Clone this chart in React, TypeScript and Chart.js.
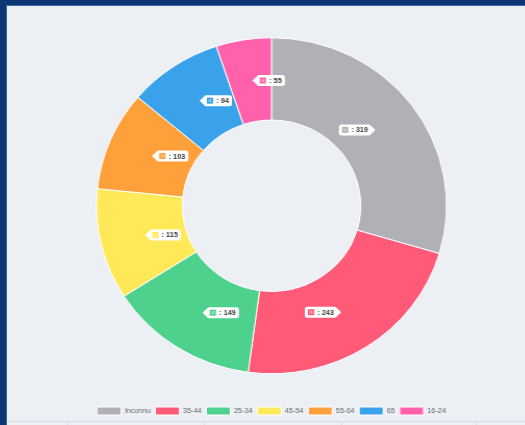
import React, { useEffect, useRef } from "react";
import { Chart, registerables } from "chart.js";

Chart.register(...registerables);

const categories = ["Inconnu", "35-44", "25-34", "45-54", "55-64", "65", "16-24"];
const values = [319, 243, 149, 115, 103, 94, 55];
const colors = ["#b0b0b6", "#ff5b79", "#4ed18c", "#ffe958", "#ffa13b", "#39a2ea", "#ff62aa"];

const FONT = "Arial, 'Liberation Sans', Helvetica, sans-serif";
const SCALE_X = 1.042;
const CANVAS_W = 500;
const CANVAS_H = 416;

const valueTags = {
  id: "valueTags",
  afterDatasetsDraw(chart: any) {
    const ctx = chart.ctx as CanvasRenderingContext2D;
    const meta = chart.getDatasetMeta(0);
    const area = chart.chartArea;
    const midX = (area.left + area.right) / 2;
    ctx.save();
    ctx.font = `bold 7px ${FONT}`;
    ctx.textBaseline = "middle";
    meta.data.forEach((el: any, i: number) => {
      const p = el.tooltipPosition(false);
      const text = ": " + values[i];
      const tw = ctx.measureText(text).width;
      const padX = 3, sq = 6, gap = 3, h = 11, caret = 4, caretPad = 2, r = 2.5;
      const w = padX + sq + gap + tw + padX;
      const leftAlign = p.x <= midX;
      const bx = leftAlign ? p.x + caretPad + caret : p.x - caretPad - caret - w;
      const by = p.y - h / 2;
      ctx.fillStyle = "#ffffff";
      ctx.beginPath();
      ctx.moveTo(bx + r, by);
      ctx.lineTo(bx + w - r, by);
      ctx.quadraticCurveTo(bx + w, by, bx + w, by + r);
      if (!leftAlign) {
        ctx.lineTo(bx + w, p.y - caret);
        ctx.lineTo(p.x - caretPad, p.y);
        ctx.lineTo(bx + w, p.y + caret);
      }
      ctx.lineTo(bx + w, by + h - r);
      ctx.quadraticCurveTo(bx + w, by + h, bx + w - r, by + h);
      ctx.lineTo(bx + r, by + h);
      ctx.quadraticCurveTo(bx, by + h, bx, by + h - r);
      if (leftAlign) {
        ctx.lineTo(bx, p.y + caret);
        ctx.lineTo(p.x + caretPad, p.y);
        ctx.lineTo(bx, p.y - caret);
      }
      ctx.lineTo(bx, by + r);
      ctx.quadraticCurveTo(bx, by, bx + r, by);
      ctx.closePath();
      ctx.fill();
      const sy = p.y - sq / 2;
      ctx.fillStyle = colors[i];
      ctx.fillRect(bx + padX, sy, sq, sq);
      ctx.fillStyle = "rgba(255,255,255,0.35)";
      ctx.fillRect(bx + padX + 1.5, sy + 1.5, sq - 3, sq - 3);
      ctx.fillStyle = "#3a3a3a";
      ctx.textAlign = "left";
      ctx.fillText(text, bx + padX + sq + gap, p.y + 0.5);
    });
    ctx.restore();
  },
};

export default function App() {
  const canvasRef = useRef<HTMLCanvasElement | null>(null);

  useEffect(() => {
    if (!canvasRef.current) return;
    const chart = new Chart(canvasRef.current, {
      type: "doughnut",
      data: {
        labels: categories,
        datasets: [
          {
            data: values,
            backgroundColor: colors,
            borderColor: "#ffffff",
            borderWidth: 1,
            radius: 168,
          } as any,
        ],
      },
      options: {
        animation: false,
        responsive: true,
        maintainAspectRatio: false,
        cutout: "51%",
        layout: { padding: 0 },
        plugins: {
          tooltip: { enabled: false },
          legend: {
            position: "bottom",
            labels: {
              boxWidth: 23,
              boxHeight: 8,
              padding: 4.5,
              color: "#666666",
              font: { size: 7, family: FONT },
            },
          },
        },
      } as any,
      plugins: [valueTags],
    });
    return () => chart.destroy();
  }, []);

  return (
    <div
      style={{
        position: "fixed",
        left: 0,
        top: 0,
        width: 525,
        height: 425,
        background: "#0b3671",
        overflow: "hidden",
      }}
    >
      <div
        style={{
          position: "absolute",
          left: 6,
          top: 5,
          right: 0,
          bottom: 0,
          background: "#eceff4",
          borderLeft: "1px solid #3a6aa8",
          borderTop: "1px solid #3a6aa8",
        }}
      />
      <div
        style={{
          position: "absolute",
          left: 7,
          top: 421,
          right: 0,
          height: 4,
          borderTop: "1px solid #d9dce3",
        }}
      >
        {[60, 197, 334, 469].map((x) => (
          <div
            key={x}
            style={{ position: "absolute", left: x, top: 0, width: 1, height: 4, background: "#d9dce3" }}
          />
        ))}
      </div>
      <div
        style={{
          position: "absolute",
          left: 10.5,
          top: 9,
          width: CANVAS_W,
          height: CANVAS_H,
          transform: `scaleX(${SCALE_X})`,
          transformOrigin: "0 0",
        }}
      >
        <canvas ref={canvasRef} />
      </div>
    </div>
  );
}
